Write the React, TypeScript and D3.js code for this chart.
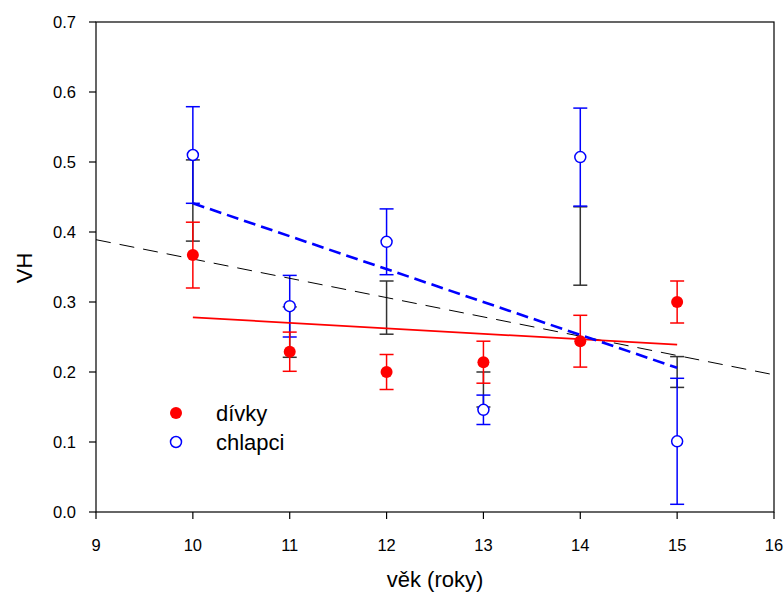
import React from "react";
import * as d3 from "d3";

const ages = [10, 11, 12, 13, 14, 15];
const girlsMean = [0.367, 0.229, 0.2, 0.214, 0.244, 0.3];
const girlsErr = [0.047, 0.028, 0.025, 0.03, 0.037, 0.03];
const boysMean = [0.51, 0.294, 0.386, 0.146, 0.507, 0.101];
const boysErr = [0.069, 0.044, 0.047, 0.021, 0.07, 0.09];
const allMean = [0.445, 0.257, 0.292, 0.175, 0.38, 0.2];
const allErr = [0.058, 0.036, 0.038, 0.025, 0.056, 0.022];
const girlsFit: [number, number][] = [[10, 0.278], [15, 0.239]];
const boysFit: [number, number][] = [[10, 0.441], [15, 0.206]];
const allFit: [number, number][] = [[9, 0.389], [16, 0.196]];
const xTicks = [9, 10, 11, 12, 13, 14, 15, 16];
const yTicks = [0, 0.1, 0.2, 0.3, 0.4, 0.5, 0.6, 0.7];

const W = 784, H = 592;
const L = 96, R = 774, T = 22, B = 512;
const FONT = "Arial, 'Liberation Sans', sans-serif";

export default function App() {
  const x = d3.scaleLinear().domain([9, 16]).range([L, R]);
  const y = d3.scaleLinear().domain([0, 0.7]).range([B, T]);
  const line = d3.line<[number, number]>().x(d => x(d[0])).y(d => y(d[1]));
  const cap = 7;

  const errBars = (means: number[], errs: number[], color: string, key: string) =>
    ages.map((a, i) => {
      const cx = x(a);
      const y1 = y(means[i] + errs[i]);
      const y2 = y(means[i] - errs[i]);
      return (
        <g key={key + i} stroke={color} strokeWidth={1.5}>
          <line x1={cx} x2={cx} y1={y1} y2={y2} />
          <line x1={cx - cap} x2={cx + cap} y1={y1} y2={y1} />
          <line x1={cx - cap} x2={cx + cap} y1={y2} y2={y2} />
        </g>
      );
    });

  return (
    <svg width={W} height={H} style={{ position: "absolute", left: 0, top: 0, background: "#fff" }}>
      <rect x={0} y={0} width={W} height={H} fill="#fff" />
      <rect x={L} y={T} width={R - L} height={B - T} fill="none" stroke="#000" strokeWidth={1.2} />
      {xTicks.map(t => (
        <g key={"xt" + t}>
          <line x1={x(t)} x2={x(t)} y1={B} y2={B + 7} stroke="#000" strokeWidth={1.2} />
          <text x={x(t)} y={B + 39} textAnchor="middle" fontFamily={FONT} fontSize={16.5}>{t}</text>
        </g>
      ))}
      {yTicks.map(t => (
        <g key={"yt" + t}>
          <line x1={L - 7} x2={L} y1={y(t)} y2={y(t)} stroke="#000" strokeWidth={1.2} />
          <text x={L - 20} y={y(t) + 6} textAnchor="end" fontFamily={FONT} fontSize={16.5}>{t.toFixed(1)}</text>
        </g>
      ))}
      <text x={435} y={587} textAnchor="middle" fontFamily={FONT} fontSize={22}>věk (roky)</text>
      <text transform={`translate(32,268) rotate(-90)`} textAnchor="middle" fontFamily={FONT} fontSize={22}>VH</text>

      {errBars(allMean, allErr, "#333", "a")}
      {errBars(boysMean, boysErr, "#0000ff", "b")}
      {errBars(girlsMean, girlsErr, "#ff0000", "g")}

      <path d={line(allFit) || ""} fill="none" stroke="#000" strokeWidth={1} strokeDasharray="15,9" />
      <path d={line(girlsFit) || ""} fill="none" stroke="#ff0000" strokeWidth={1.8} />
      <path d={line(boysFit) || ""} fill="none" stroke="#0000ff" strokeWidth={2.6} strokeDasharray="12,6" />

      {ages.map((a, i) => (
        <circle key={"gm" + i} cx={x(a)} cy={y(girlsMean[i])} r={6} fill="#ff0000" />
      ))}
      {ages.map((a, i) => (
        <circle key={"bm" + i} cx={x(a)} cy={y(boysMean[i])} r={5.5} fill="#fff" stroke="#0000ff" strokeWidth={1.5} />
      ))}

      <circle cx={176} cy={413} r={6} fill="#ff0000" />
      <text x={216} y={421} fontFamily={FONT} fontSize={22}>dívky</text>
      <circle cx={176} cy={442} r={5.5} fill="#fff" stroke="#0000ff" strokeWidth={1.5} />
      <text x={216} y={450} fontFamily={FONT} fontSize={22}>chlapci</text>
    </svg>
  );
}
